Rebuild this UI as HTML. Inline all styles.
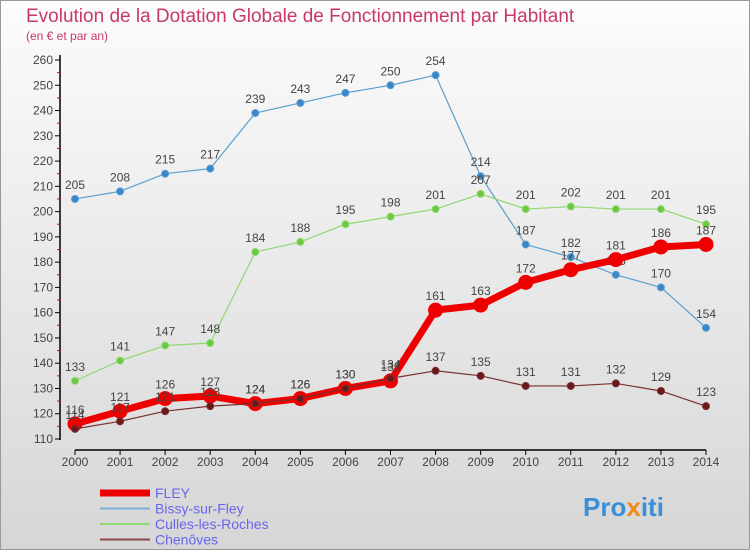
<!DOCTYPE html>
<html><head><meta charset="utf-8"><style>
body{margin:0;}
svg text{font-family:"Liberation Sans",sans-serif;}
</style></head><body>
<svg width="750" height="550" viewBox="0 0 750 550" xmlns="http://www.w3.org/2000/svg">
<defs><linearGradient id="bg" x1="0" y1="0" x2="0" y2="1"><stop offset="0" stop-color="#fcfcfc"/><stop offset="1" stop-color="#d6d6d6"/></linearGradient></defs>
<rect x="0.5" y="0.5" width="749" height="549" fill="url(#bg)" stroke="#999"/>
<text x="26" y="22" font-size="19" fill="#c8386e">Evolution de la Dotation Globale de Fonctionnement par Habitant</text>
<text x="26" y="40" font-size="12" fill="#c8386e">(en € et par an)</text>
<g id="axes"></g>
<g id="series"></g>
<g id="legend"></g>
<text x="583" y="516" font-size="26" font-weight="bold" fill="#3a8fd8">Pro<tspan fill="#f08a1c">x</tspan>iti</text>
</svg>
<script>
const years=[2000,2001,2002,2003,2004,2005,2006,2007,2008,2009,2010,2011,2012,2013,2014];
const yTicks=[110,120,130,140,150,160,170,180,190,200,210,220,230,240,250,260];
const fley=[116,121,126,127,124,126,130,133,161,163,172,177,181,186,187];
const bissy=[205,208,215,217,239,243,247,250,254,214,187,182,175,170,154];
const culles=[133,141,147,148,184,188,195,198,201,207,201,202,201,201,195];
const chenoves=[114,117,121,123,124,126,130,134,137,135,131,131,132,129,123];
const NS="http://www.w3.org/2000/svg";
const X=i=>75+i*(706-75)/(years.length-1);
const Y=v=>439-(v-110)*(439-60)/150;
function mk(tag,attrs,parent,text){const e=document.createElementNS(NS,tag);for(const k in attrs)e.setAttribute(k,attrs[k]);if(text!==undefined)e.textContent=text;parent.appendChild(e);return e;}
const ax=document.getElementById('axes');
let a=mk('line',{x1:60,y1:55,x2:60,y2:440,stroke:'#000','stroke-width':1.5},ax);


a=mk('line',{x1:75,y1:450,x2:706,y2:450,stroke:'#000','stroke-width':1.5},ax);


yTicks.forEach(v=>{
  mk('line',{x1:55,y1:Y(v),x2:60,y2:Y(v),stroke:'#000'},ax);
  if(v<260) mk('line',{x1:57,y1:Y(v+5),x2:60,y2:Y(v+5),stroke:'#e00'},ax);
  const t=mk('text',{x:53,y:Y(v)+4,'font-size':12,fill:'#444','text-anchor':'end'},ax,v);
  
  
});
years.forEach((y,i)=>{
  mk('line',{x1:X(i),y1:450,x2:X(i),y2:455,stroke:'#000'},ax);
  const t=mk('text',{x:X(i),y:466,'font-size':12,fill:'#444','text-anchor':'middle'},ax,y);
  
  
});
const sg=document.getElementById('series');
function series(data,name,color,width,r,dot){
  const g=mk('g',{},sg);
  
  
  mk('polyline',{points:data.map((v,i)=>X(i)+','+Y(v)).join(' '),fill:'none',stroke:color,'stroke-width':width,'stroke-linejoin':'round'},g);
  data.forEach((v,i)=>{
    const c=mk('circle',{cx:X(i),cy:Y(v),r:r,fill:dot,stroke:color,'stroke-width':1},g);
    
    
    const t=mk('text',{x:X(i),y:Y(v)-10,'font-size':12,fill:'#444','text-anchor':'middle'},g,v);
    
    
  });
}
series(bissy,'bissy','#5a9fd0',1.2,3.5,'#3a86c8');
series(culles,'culles','#90d870',1.2,3.5,'#6cc840');
series(fley,'fley','#ee0000',7,7,'#ee0000');
series(chenoves,'chenoves','#7a3030',1.2,3.5,'#6a1818');
const lg=document.getElementById('legend');
[['FLEY','#ee0000',7],['Bissy-sur-Fley','#7ab0d8',2],['Culles-les-Roches','#90d870',2],['Chenôves','#8a4848',2]].forEach((e,i)=>{
  const y=493+i*15.5;
  const l=mk('line',{x1:100,y1:y,x2:150,y2:y,stroke:e[1],'stroke-width':e[2]},lg);
  
  
  const t=mk('text',{x:155,y:y+5,'font-size':14,fill:'#6666ee'},lg,e[0]);
  
  
});
</script>
</body></html>
